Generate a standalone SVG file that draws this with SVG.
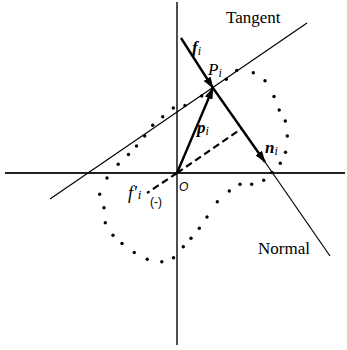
<svg xmlns="http://www.w3.org/2000/svg" width="347" height="350" viewBox="0 0 347 350">
<style>
.thin{stroke:#000;stroke-width:1.2;fill:none}
.axis{stroke:#222;fill:none}
.thick{stroke:#000;stroke-width:2.4;fill:none}
.dash{stroke:#000;stroke-width:2.2;fill:none;stroke-dasharray:7 4}
.dot{fill:#000}
.serif{font-family:'Liberation Serif','Times New Roman',serif}
.bi{font-weight:bold;font-style:italic}
.it{font-style:italic}
</style>
<defs>
<marker id="ah" markerWidth="12" markerHeight="8" refX="11" refY="4" orient="auto" markerUnits="userSpaceOnUse">
<path d="M0,0 L12,4 L0,8 Z" fill="#000"/>
</marker>
<circle id="d" r="1.7" class="dot"/>
</defs>
<rect width="347" height="350" fill="#fff"/>
<g id="axes">
<line class="axis" stroke-width="2" x1="5" y1="173" x2="345" y2="173"/>
<line class="axis" stroke-width="1.6" x1="177" y1="2" x2="177" y2="345"/>
</g>
<g id="connectors">
<line id="tangent" class="thin" x1="50" y1="199" x2="307" y2="23"/>
<line id="normal" class="thin" x1="265" y1="162" x2="330" y2="256"/>
<line class="thick" x1="181" y1="38" x2="213" y2="88" marker-end="url(#ah)"/>
<line class="thick" x1="177" y1="173" x2="213" y2="88" marker-end="url(#ah)"/>
<line class="thick" x1="213" y1="88" x2="265" y2="162" marker-end="url(#ah)"/>
<line class="dash" x1="177" y1="173" x2="241" y2="129"/>
<line class="dash" x1="177" y1="173" x2="147" y2="193"/>
</g>
<g id="curve">
<use href="#d" x="201.7" y="96"/>
<use href="#d" x="185" y="105.5"/>
<use href="#d" x="173.3" y="108"/>
<use href="#d" x="162.7" y="116.7"/>
<use href="#d" x="152.7" y="125.2"/>
<use href="#d" x="144.7" y="136"/>
<use href="#d" x="136.5" y="146"/>
<use href="#d" x="128.5" y="154.5"/>
<use href="#d" x="118.2" y="164.2"/>
<use href="#d" x="107" y="178"/>
<use href="#d" x="99.7" y="194.2"/>
<use href="#d" x="104" y="207.7"/>
<use href="#d" x="105.3" y="222.7"/>
<use href="#d" x="113" y="235.2"/>
<use href="#d" x="122" y="243.5"/>
<use href="#d" x="134.3" y="252.5"/>
<use href="#d" x="147.2" y="259.2"/>
<use href="#d" x="161.8" y="261.8"/>
<use href="#d" x="173.5" y="257.7"/>
<use href="#d" x="183.3" y="246.7"/>
<use href="#d" x="191" y="238.3"/>
<use href="#d" x="199.3" y="228.3"/>
<use href="#d" x="207" y="217"/>
<use href="#d" x="217.3" y="201.8"/>
<use href="#d" x="229.3" y="191"/>
<use href="#d" x="240" y="184.3"/>
<use href="#d" x="251.7" y="184.3"/>
<use href="#d" x="263.7" y="180.2"/>
<use href="#d" x="272" y="172.5"/>
<use href="#d" x="280.3" y="163.3"/>
<use href="#d" x="285.5" y="152.2"/>
<use href="#d" x="287.3" y="136"/>
<use href="#d" x="285.3" y="121"/>
<use href="#d" x="279.2" y="110"/>
<use href="#d" x="274" y="96.5"/>
<use href="#d" x="265" y="80.7"/>
<use href="#d" x="253.3" y="72.7"/>
<use href="#d" x="236.7" y="70.4"/>
<use href="#d" x="226.3" y="79.3"/>
</g>
<g id="labels" class="serif">
<text x="226" y="23" font-size="17">Tangent</text>
<text x="258" y="254" font-size="17">Normal</text>
<text x="192" y="53" font-size="17" class="bi">f<tspan font-size="12" dy="2" font-weight="normal">i</tspan></text>
<text x="208" y="75" font-size="17" class="it">P<tspan font-size="12" dy="2">i</tspan></text>
<text x="197" y="133" font-size="17" class="bi">p<tspan font-size="12" dy="2" font-weight="normal">i</tspan></text>
<text x="265" y="153" font-size="17" class="bi">n<tspan font-size="12" dy="2" font-weight="normal">i</tspan></text>
<text x="128" y="199" font-size="18" class="it">f'<tspan font-size="13" dx="1">i</tspan></text>
<text x="150" y="206" font-size="12" font-family="'Liberation Sans',Arial,sans-serif">(-)</text>
<text x="179" y="191" font-size="12" font-style="italic" font-family="'Liberation Sans',Arial,sans-serif">O</text>
</g>
</svg>
